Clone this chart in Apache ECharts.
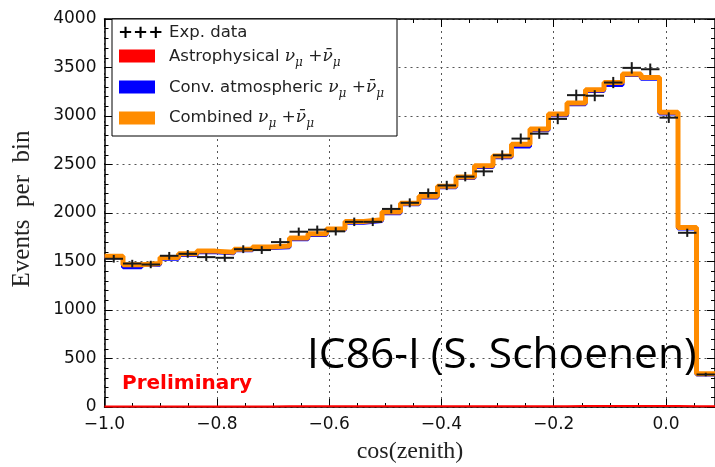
<!DOCTYPE html>
<html>
<head>
<meta charset="utf-8">
<script src="https://cdn.jsdelivr.net/npm/echarts@6/dist/echarts.min.js"></script>
<style>
  html, body { margin: 0; padding: 0; background: #fff; }
  #chart { width: 715px; height: 467px; }
</style>
</head>
<body>
<div id="chart"></div>
<script>
// binning in cos(zenith): 33 bins from -1 up to cos(85 deg)
var binLo = -1.0;
var binHi = 0.0872;
var nBins = 33;

// Combined nu_mu + nubar_mu expectation (orange)
var combined = [1555, 1466, 1479, 1541, 1579, 1607, 1596, 1627, 1650, 1660, 1741,
                1786, 1836, 1912, 1930, 2010, 2101, 2172, 2277, 2372, 2486, 2588,
                2710, 2865, 3020, 3133, 3270, 3345, 3434, 3397, 3038, 1851, 342];
// Conventional atmospheric (blue, mostly hidden under orange)
var convAtm = [1543, 1440, 1467, 1529, 1567, 1595, 1584, 1615, 1638, 1648, 1729,
               1774, 1824, 1900, 1918, 1998, 2089, 2160, 2265, 2360, 2474, 2576,
               2685, 2853, 3008, 3121, 3258, 3320, 3422, 3385, 3026, 1839, 334];
// Astrophysical (red, close to zero)
var astro = [6, 6, 6, 6, 6, 6, 6, 6, 6, 7, 7,
             7, 7, 7, 7, 8, 8, 8, 8, 8, 9, 9,
             9, 9, 9, 10, 10, 10, 10, 10, 10, 9, 7];
// Experimental data
var expData = [1528, 1479, 1469, 1559, 1579, 1545, 1538, 1627, 1618, 1700, 1807,
               1828, 1811, 1909, 1909, 2042, 2105, 2206, 2284, 2375, 2429, 2595,
               2767, 2818, 2970, 3215, 3209, 3345, 3496, 3482, 2983, 1796, 335];

var binW = (binHi - binLo) / nBins;
function edge(k) { return binLo + k * binW; }

function stepData(vals) {
    var out = [];
    for (var k = 0; k < vals.length; k++) out.push([edge(k), vals[k]]);
    out.push([edge(vals.length), vals[vals.length - 1]]);
    return out;
}

var errData = expData.map(function(v, k) {
    return [edge(k), edge(k + 1), v, Math.sqrt(v)];
});

function xFmt(v) {
    if (Math.abs(v) < 1e-9) return '0.0';
    return (v < 0 ? '\u2212' : '') + Math.abs(v).toFixed(1);
}

var chart = echarts.init(document.getElementById('chart'));

var spine = { show: true, onZero: false, lineStyle: { color: '#000', width: 1.5 } };
var dotted = { show: true, lineStyle: { color: '#555', type: [2, 4], width: 1 } };
var tickIn = { show: true, inside: true, length: 8, lineStyle: { color: '#000', width: 1 } };

var mathFont = 'DejaVu Serif';
var rich = {
    m: { fontFamily: mathFont, fontStyle: 'italic', fontSize: 17, fill: '#222', color: '#222', lineHeight: 24 },
    p: { fontFamily: mathFont, fontSize: 17, fill: '#222', color: '#222', lineHeight: 24 },
    s: { fontFamily: mathFont, fontStyle: 'italic', fontSize: 12, fill: '#222', color: '#222',
         verticalAlign: 'bottom', lineHeight: 14 }
};
var nuText = '{m|\u03bd}{s|\u03bc}{p| +}{m|\u03bd\u0304}{s|\u03bc}';

function legText(x, y, label) {
    return {
        type: 'text', x: x, y: y, z: 101,
        style: {
            text: label, rich: rich,
            fontFamily: 'DejaVu Sans', fontSize: 16.5, fill: '#222',
            verticalAlign: 'middle'
        }
    };
}
function legPatch(y, color) {
    return { type: 'rect', z: 101, shape: { x: 119, y: y, width: 36, height: 13 }, style: { fill: color } };
}

var option = {
    animation: false,
    backgroundColor: '#fff',
    grid: { left: 104.5, right: -4.5, top: 19, bottom: 60, show: false },
    xAxis: [{
        type: 'value', min: binLo, max: binHi, interval: 0.2,
        axisLine: spine, axisTick: tickIn,
        minorTick: { show: true, splitNumber: 4, length: 4, lineStyle: { color: '#000' } },
        splitLine: dotted,
        axisLabel: { formatter: xFmt, showMaxLabel: false, color: '#111', fontSize: 17,
                     fontFamily: 'DejaVu Sans', margin: 9 }
    }, {
        type: 'value', position: 'top', min: binLo, max: binHi, interval: 0.2,
        axisLine: spine, axisTick: tickIn,
        minorTick: { show: true, splitNumber: 4, length: 4, lineStyle: { color: '#000' } },
        splitLine: { show: false }, axisLabel: { show: false }
    }],
    yAxis: [{
        type: 'value', min: 0, max: 4000, interval: 500,
        axisLine: spine, axisTick: tickIn,
        minorTick: { show: true, splitNumber: 5, length: 4, lineStyle: { color: '#000' } },
        splitLine: dotted,
        axisLabel: { formatter: function(v) { return String(v); }, color: '#111', fontSize: 17,
                     fontFamily: 'DejaVu Sans', margin: 8 }
    }, {
        type: 'value', position: 'right', min: 0, max: 4000, interval: 500,
        axisLine: spine, axisTick: tickIn,
        minorTick: { show: true, splitNumber: 5, length: 4, lineStyle: { color: '#000' } },
        splitLine: { show: false }, axisLabel: { show: false }
    }],
    series: [{
        name: 'Astrophysical', type: 'line', step: 'end', showSymbol: false,
        data: stepData(astro), lineStyle: { color: '#ff0000', width: 2 }, z: 3
    }, {
        name: 'Conv. atmospheric', type: 'line', step: 'end', showSymbol: false,
        data: stepData(convAtm), lineStyle: { color: '#0000ff', width: 4 }, z: 4
    }, {
        name: 'Combined', type: 'line', step: 'end', showSymbol: false,
        data: stepData(combined), lineStyle: { color: '#ff8c00', width: 5 }, z: 5
    }, {
        name: 'Exp. data', type: 'custom', clip: true, z: 6,
        data: errData,
        encode: { x: [0, 1], y: 2 },
        renderItem: function(params, api) {
            var x0 = api.value(0), x1 = api.value(1), y = api.value(2), e = api.value(3);
            var a = api.coord([x0, y]);
            var b = api.coord([x1, y]);
            var t = api.coord([(x0 + x1) / 2, y + e]);
            var u = api.coord([(x0 + x1) / 2, y - e]);
            var st = { stroke: '#1a1a1a', lineWidth: 2 };
            return {
                type: 'group',
                children: [
                    { type: 'line', shape: { x1: a[0], y1: a[1], x2: b[0], y2: b[1] }, style: st },
                    { type: 'line', shape: { x1: t[0], y1: t[1], x2: u[0], y2: u[1] }, style: st }
                ]
            };
        }
    }],
    graphic: [
        // legend
        { type: 'rect', shape: { x: 112, y: 19, width: 285, height: 117 },
          style: { fill: '#fff', stroke: '#000', lineWidth: 1 }, z: 100 },
        { type: 'text', x: 118, y: 33, z: 101, style: { text: '+++', fontFamily: 'DejaVu Sans',
          fontWeight: 'bold', fontSize: 18, fill: '#000', verticalAlign: 'middle' } },
        { type: 'text', x: 169, y: 33, z: 101, style: { text: 'Exp. data', fontFamily: 'DejaVu Sans',
          fontSize: 16.5, fill: '#222', verticalAlign: 'middle' } },
        legPatch(49.5, '#ff0000'),
        legText(169, 57, 'Astrophysical ' + nuText),
        legPatch(80.5, '#0000ff'),
        legText(169, 88, 'Conv. atmospheric ' + nuText),
        legPatch(111.5, '#ff8c00'),
        legText(169, 118, 'Combined ' + nuText),
        // axis titles
        { type: 'text', x: 22, y: 209, rotation: Math.PI / 2,
          style: { text: 'Events  per  bin', fontFamily: 'Liberation Serif', fontSize: 25, fill: '#222',
                   align: 'center', verticalAlign: 'middle' } },
        { type: 'text', x: 410, y: 452,
          style: { text: 'cos(zenith)', fontFamily: 'Liberation Serif', fontSize: 24, fill: '#222',
                   align: 'center', verticalAlign: 'middle' } },
        // annotations
        { type: 'text', x: 307, y: 356, z: 50,
          style: { text: 'IC86-I (S. Schoenen)', fontFamily: 'Open Sans', fontSize: 42.5, fill: '#000',
                   verticalAlign: 'middle' } },
        { type: 'text', x: 122, y: 384, z: 50,
          style: { text: 'Preliminary', fontFamily: 'DejaVu Sans', fontWeight: 'bold', fontSize: 20,
                   fill: '#ff0000', verticalAlign: 'middle' } }
    ]
};

chart.setOption(option);
</script>
</body>
</html>
